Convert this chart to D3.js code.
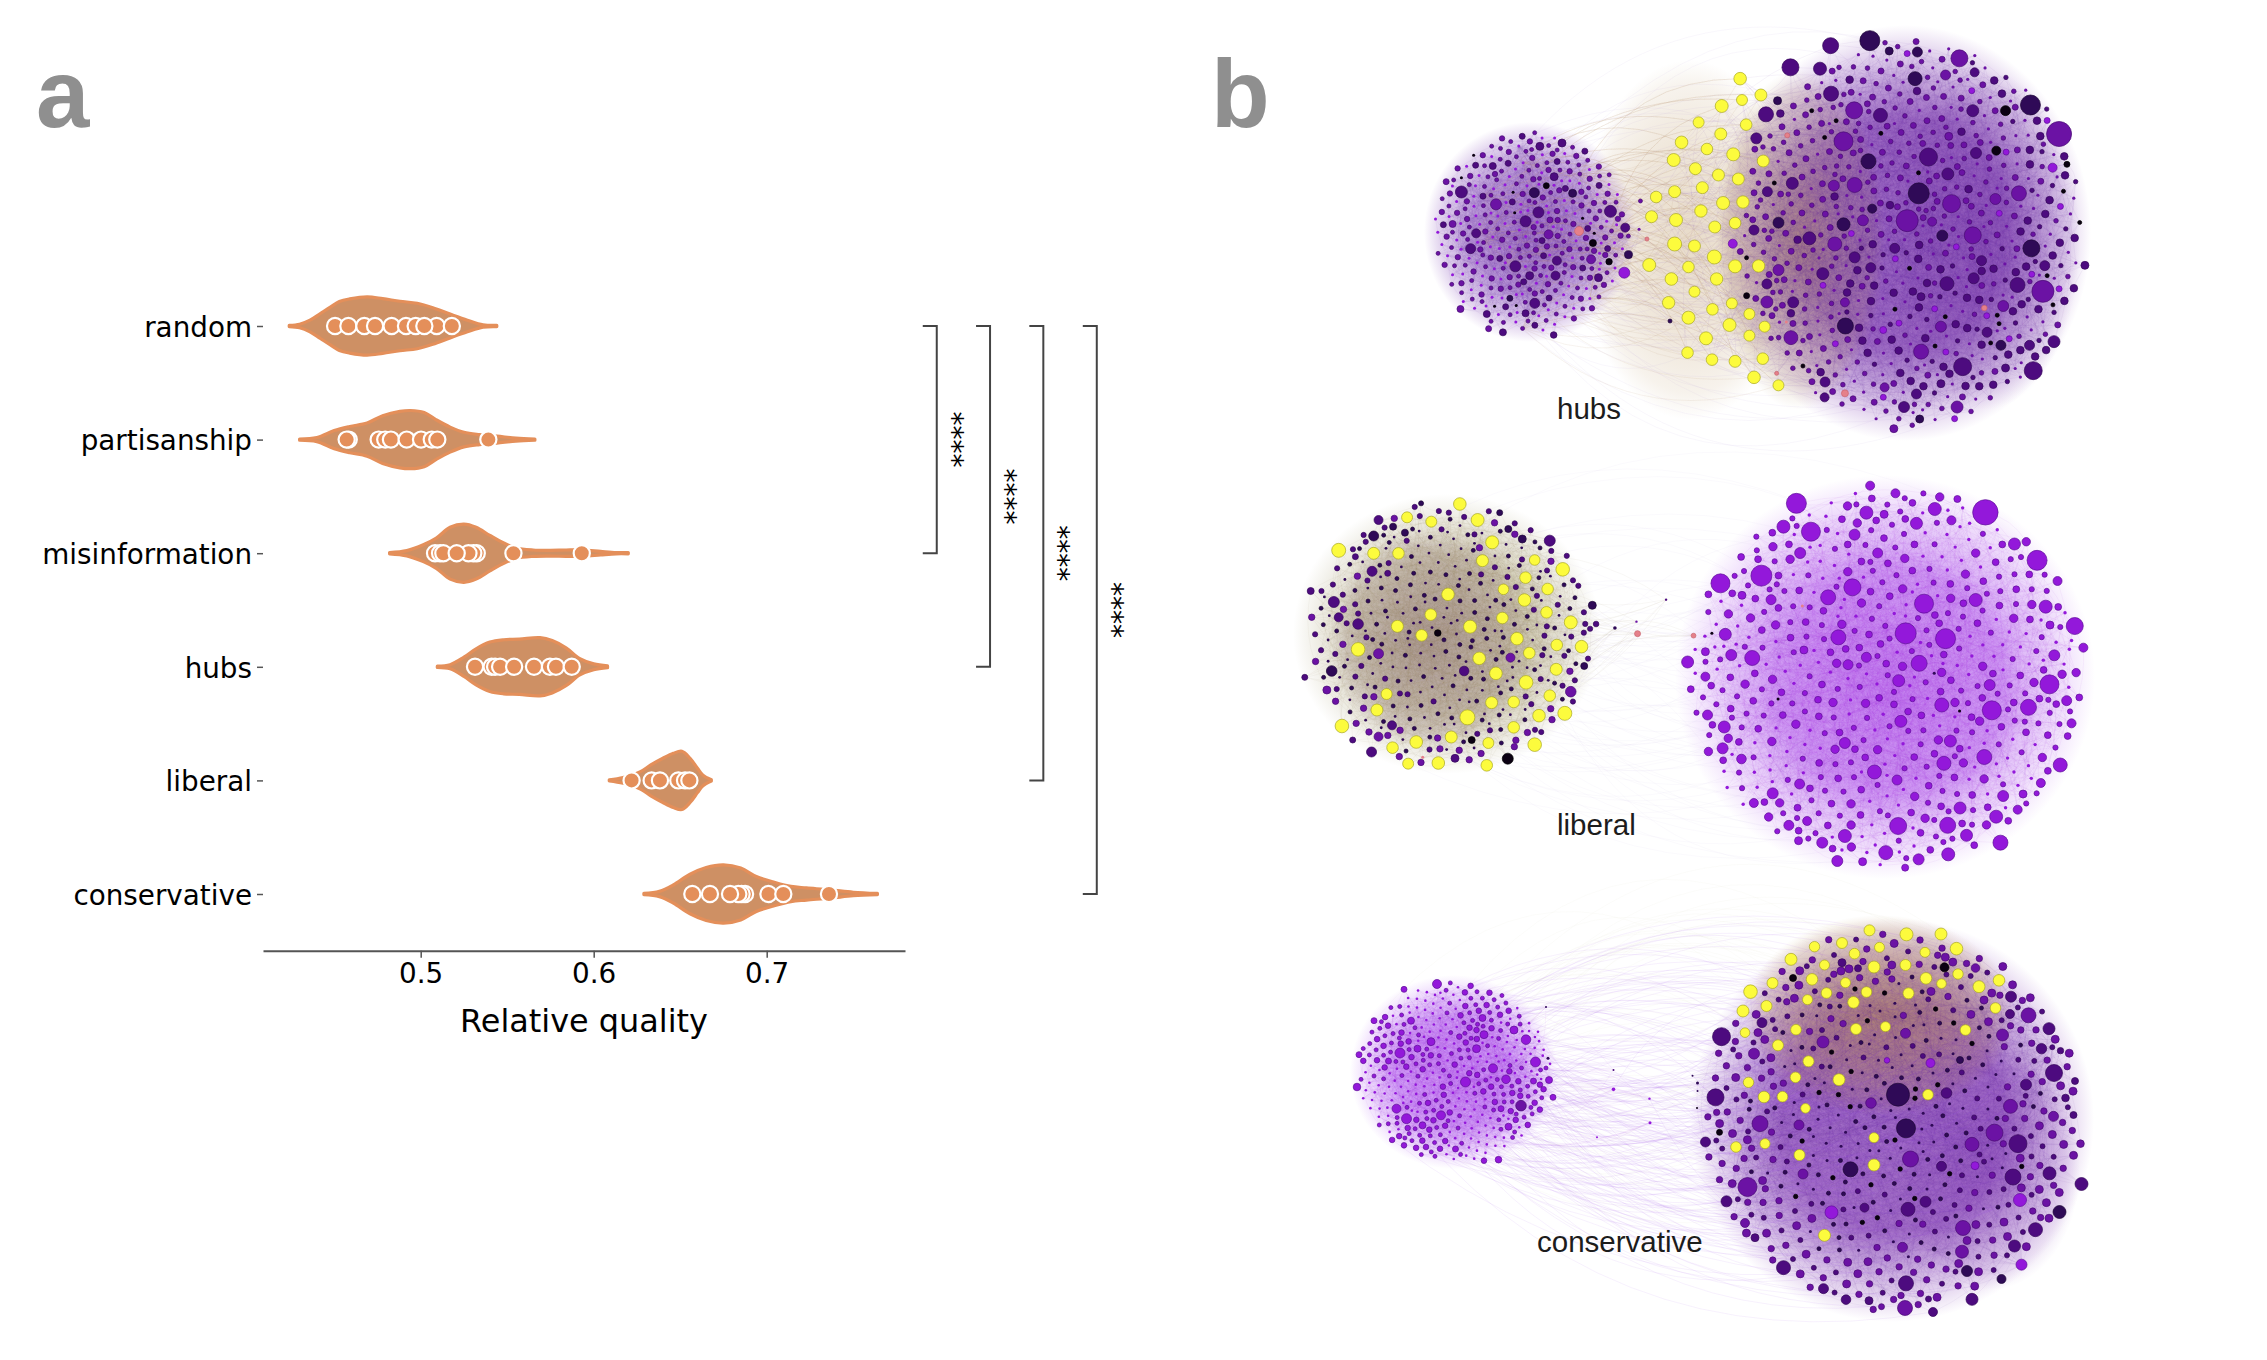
<!DOCTYPE html>
<html><head><meta charset="utf-8">
<script src="https://cdn.jsdelivr.net/npm/d3@7"></script>
<style>html,body{margin:0;padding:0;background:#fff}svg{display:block}</style>
</head><body><svg id="c" width="2267" height="1360" viewBox="0 0 2267 1360"></svg>
<script>
// ---------- panel a data ----------
const categories = ["random","partisanship","misinformation","hubs","liberal","conservative"];
const xTicks = [0.5,0.6,0.7];
const points = {
  random:[.4505,.4582,.4674,.4736,.4832,.4915,.4971,.5092,.518,.5021],
  partisanship:[.4584,.4572,.4757,.4795,.4828,.4919,.5002,.5064,.5096,.5391],
  misinformation:[.5324,.5304,.5276,.5083,.5112,.5131,.5208,.5536,.5931],
  hubs:[.5314,.5410,.5430,.5459,.5540,.5655,.5747,.5782,.5873],
  liberal:[.6219,.6335,.6383,.6489,.6528,.6553],
  conservative:[.6875,.6855,.6836,.6570,.6672,.6788,.7010,.7096,.7360]
};
const violinGrid = {
  random:[.424,.430,.436,.442,.448,.453,.459,.469,.478,.488,.498,.507,.517,.527,.536,.544],
  partisanship:[.430,.440,.450,.459,.469,.478,.488,.494,.502,.509,.517,.525,.534,.544,.555,.566],
  misinformation:[.482,.492,.5015,.509,.517,.525,.532,.540,.548,.555,.565,.575,.584,.594,.604,.613,.620],
  hubs:[.5096,.517,.525,.532,.540,.548,.557,.569,.576,.584,.592,.600,.608],
  liberal:[.609,.617,.627,.633,.640,.646,.651,.6557,.660,.663,.668],
  conservative:[.629,.638,.646,.6557,.665,.675,.685,.694,.704,.714,.723,.737,.750,.764]
};
const violinDensity = {
  random:[.02,.06,.2,.43,.66,.84,.93,1,.94,.85,.78,.63,.41,.2,.04,.02],
  partisanship:[.02,.07,.31,.45,.57,.82,.97,1,.93,.68,.43,.25,.17,.12,.05,.02],
  misinformation:[.02,.09,.29,.52,.89,1,.89,.61,.35,.18,.11,.1,.11,.11,.06,.02,.02],
  hubs:[.02,.07,.33,.62,.85,.93,.95,1,.9,.65,.28,.1,.03],
  liberal:[.02,.1,.3,.53,.76,.93,1,.76,.42,.19,.02],
  conservative:[.02,.09,.31,.68,.91,1,.89,.6,.41,.26,.21,.14,.06,.02]
};
const bracketTargets = ["misinformation","hubs","liberal","conservative"];
const bracketValues = [.7983,.8291,.8599,.8908];
const sigLabel = "****";
const panelLetters = ["a","b"];
const networkLabels = ["hubs","liberal","conservative"];

// ---------- panel b data ----------
// Larger nodes: [crop x, crop y, radius, colour class], read one by one from enlarged crops.
// Class: 0 black, 1 dark, 2 deep, 3 mid, 4 bright, 5 pink, 6 yellow.
const hubsYellow=[[737,176,6.3],[782,225,6],[741,240,5.5],[697,258,6.5],[647,307,5.5],[750,314,5.8],[695,342,6],[610,367,6.3],[665,387,5.8],[722,403,6.5],[593,420,6.5],[787,423,6],[640,446,6],[690,465,6],[733,477,6],[655,503,6],[595,515,6],[555,531,5.8],[700,549,6.5],[743,546,6.2],[652,573,6.2],[545,590,6],[598,600,6.5],[726,609,5.8],[682,621,6],[595,672,7],[638,678,6],[681,711,7],[540,735,6.5],[726,739,6.5],[777,738,6.2],[625,741,5.8],[588,777,6.3],[686,777,6.2],[638,815,5.5],[582,848,6.2],[719,850,5.5],[677,868,5.8],[757,882,5.5],[625,893,6.5],[714,915,6.5],[790,920,5.5],[663,955,6.5],[757,947,5.5],[623,998,5.8],[786,1016,5.8],[676,1019,5.8],[726,1024,6],[767,1072,6.3],[820,1096,5.5]];
const hubsRightNodes=[[1018,62,10,1],[933,77,8,2],[1060,93,4,1],[1121,96,5,1],[1212,115,8.5,3],[846,142,8.5,2],[910,146,6.5,2],[1116,176,7,1],[1245,157,4.5,2],[1182,165,5,3],[934,221,7.5,2],[984,271,8.5,3],[1041,286,7,2],[1366,255,10,1],[1312,272,5,0],[1241,272,6,2],[1428,342,12.5,3],[793,283,7.5,2],[818,242,4,1],[772,355,5.5,2],[961,364,9.5,3],[1145,411,9,2],[1189,349,4,3],[1248,399,5.5,2],[1292,392,4.5,0],[1015,424,7.5,1],[1414,443,4.5,4],[1445,433,3,0],[1187,462,6,2],[985,495,7.5,3],[940,497,5.5,3],[850,490,6,2],[796,515,5,2],[1124,520,10.5,1],[1341,520,7.5,3],[1195,551,9,3],[1290,537,5.5,3],[1099,602,11,3],[1023,566,4.5,1],[961,613,6.5,1],[820,608,5.5,1],[1241,646,8.5,3],[1003,601,5.5,3],[1153,605,4.5,3],[1175,647,5.5,1],[887,655,6.5,2],[942,672,7,3],[767,630,5,2],[721,671,4.5,4],[1368,685,8.5,1],[1072,685,5,2],[985,712,5.5,2],[1260,722,5,2],[1484,736,4,2],[1397,737,5,2],[1185,791,7,2],[1243,775,5.5,2],[1338,795,7.5,2],[1393,814,11,3],[916,761,6,2],[820,750,5.5,3],[795,792,5,2],[795,846,6,3],[852,847,5.5,2],[964,847,4.5,3],[1307,858,5.5,3],[965,918,8,1],[847,953,7,3],[1172,920,5.5,3],[1272,937,5,2],[1302,976,5,1],[1364,976,5,2],[1417,965,6,2],[1129,995,7.5,3],[1219,1040,9,2],[1372,1052,9,2],[1312,1044,4,2],[921,1086,5,2],[1119,1122,5,2],[1172,1091,4,2],[1207,1161,6,3],[1092,1161,5.5,2],[1070,1226,4,3],[1126,1197,4,1],[920,1132,4.5,2],[1050,1102,4.5,3],[1020,743,5,2],[1047,930,3.5,4],[1129,830,4,2],[839,346,2.5,5],[1266,864,2.8,5],[964,1120,3.5,5],[816,1060,2,5],[837,906,1.5,5],[892,272,2,0],[945,302,2,0],[873,1038,2,0],[1298,911,2,0],[751,827,3,0]];
const hubsLeftNodes=[[133,516,6,2],[208,553,5.5,3],[291,518,5,1],[317,497,3,0],[374,520,4,1],[351,369,4,2],[303,379,4,2],[334,470,4,2],[300,577,5.5,2],[272,604,5.5,2],[325,600,3,3],[456,574,6,2],[488,623,4.5,2],[388,633,4.5,5],[418,669,3.5,0],[322,643,4.5,3],[165,640,4.5,2],[153,686,5,2],[114,612,3.5,3],[414,718,4.5,3],[495,704,4,1],[453,725,3.2,0],[486,758,5.5,4],[340,722,4.5,2],[250,739,5.5,2],[337,767,4.5,2],[430,773,4,2],[292,850,5,2],[281,767,4,2],[131,867,3.5,3],[188,882,3.5,2],[272,880,3.5,2],[223,937,3.5,2],[333,945,3.3,2],[192,926,3,3],[238,835,3,1],[100,485,3,3],[201,438,3.5,2],[535,657,2,5],[521,543,2,3],[518,628,1.5,3],[585,903,2,1]];
const liberalYellow=[[334,102,6.3],[236,142,5.5],[281,155,5.5],[367,150,6.5],[394,217,6.5],[109,241,7],[174,250,6],[220,250,5.8],[376,272,6],[473,270,5.3],[525,298,6.8],[456,323,5.8],[312,373,6.3],[415,358,5.3],[497,357,5.8],[454,390,6.3],[280,434,5.8],[413,444,5.8],[495,427,5.8],[218,469,6],[353,470,6.5],[263,496,5.8],[540,457,6.5],[440,506,6.3],[514,525,5.8],[560,530,6.3],[145,538,6.8],[463,549,5.8],[370,565,6.3],[513,598,6],[401,610,6.3],[457,637,6.8],[198,672,5.5],[393,698,6],[434,696,5.8],[501,677,5.8],[180,720,6],[348,742,7.5],[529,730,7],[481,737,6.3],[115,768,6.8],[434,772,5.8],[318,801,6],[253,816,6.3],[387,819,5.5],[473,824,6.8],[209,833,5.8],[238,881,5.5],[294,879,6.3],[384,886,5.8]];
const liberalLeftNodes=[[183,150,4.5,2],[174,198,5,1],[501,212,5.5,2],[450,207,4,1],[408,128,3,1],[424,177,3.5,1],[262,100,2.5,1],[210,170,3.5,1],[232,188,3.5,1],[171,304,5,2],[100,396,5.5,2],[57,363,3.5,2],[145,462,5.3,2],[109,442,4.5,2],[580,406,4,1],[587,462,2.8,2],[183,551,5,3],[428,563,4.5,3],[342,603,4.8,2],[96,603,5.3,1],[565,588,3.5,1],[46,622,3,2],[540,665,5.3,3],[87,660,4,3],[208,766,4.5,2],[183,800,4.5,3],[170,846,5,2],[135,810,3,2],[325,865,4,2],[356,810,3.5,0],[423,866,5.5,0],[293,489,3.3,0],[622,474,1.8,1],[265,862,1.5,5],[664,491,3,5],[768,497,2.4,5],[717,389,1.2,2],[662,455,1.2,3],[200,310,3,2],[140,260,3,2]];
const liberalRightNodes=[[959,100,10,4],[1310,127,12.7,4],[986,185,9.5,4],[935,170,6.5,4],[1089,128,6.5,4],[1143,70,4.5,4],[1096,47,4.5,4],[1216,117,6.5,4],[1122,133,4,4],[1182,160,6,4],[1247,151,4.5,4],[1258,87,3.5,4],[1067,194,5.5,4],[1364,222,6,4],[1406,271,10,4],[966,249,5.5,4],[1110,249,5,4],[818,340,9.5,4],[894,317,10.5,4],[1444,333,4.5,4],[1063,352,8.5,4],[1018,382,7.5,4],[1196,401,9.5,4],[1292,390,6.5,4],[912,389,5,4],[858,376,4,4],[1422,410,6.5,4],[1476,468,8.5,4],[1162,490,10.5,4],[1236,506,10,4],[1037,502,7.5,4],[827,493,6,4],[1430,465,4,4],[1492,533,4.5,4],[877,564,7.5,4],[838,555,5.5,4],[790,545,4,4],[757,576,6,4],[1187,580,8,4],[1089,562,5,4],[973,540,4,4],[1055,584,5,4],[1438,556,5.5,4],[1149,632,6,4],[1429,643,9.5,4],[1318,645,5.5,4],[790,620,4.5,4],[1461,692,5,4],[1229,705,7,4],[1322,721,9.5,4],[1390,712,8,4],[794,735,5,4],[825,771,6,4],[1470,760,4.5,4],[1153,754,6,4],[1245,813,6,4],[822,835,5.5,4],[1049,819,5.5,4],[1308,861,7.5,4],[1233,880,7,4],[1449,885,7,4],[857,867,4.8,4],[1104,906,7,4],[1146,930,5,4],[915,970,5.5,4],[965,942,5,4],[880,999,4.5,4],[1413,939,4.5,4],[1343,978,5.5,4],[1380,972,4,4],[1263,1014,6,4],[1370,1019,4.5,4],[1330,1040,6.5,4],[1148,1068,8.5,4],[1240,1066,8,4],[1275,1096,6,4],[1049,1098,6.5,4],[945,1066,5,4],[979,1053,4.5,4],[1338,1118,7.5,4],[1007,1118,5.5,4],[963,1112,4,4],[1125,1148,7,4],[1241,1153,6.5,4],[1186,1168,5.5,4],[1035,1173,5.5,4],[1082,1175,4,4],[1161,1193,3.5,4],[970,408,1.5,5],[1215,610,1.5,1],[925,687,1.5,0],[1262,723,1.5,0],[802,490,1.5,0]];
const conservativeLeftNodes=[[194,252,4.5,4],[128,268,3,4],[285,354,3.5,4],[348,390,4,4],[372,419,4.8,4],[288,404,4,4],[182,425,4,4],[120,459,5,4],[155,446,3.5,4],[273,446,4,4],[142,362,3.5,4],[306,505,4.5,4],[391,486,5,4],[332,538,4.3,4],[251,546,5,4],[418,540,3.5,4],[387,543,3,4],[34,561,3.8,4],[362,617,5.3,3],[426,592,3,4],[113,626,4.5,4],[202,646,4.5,4],[133,656,5,4],[165,676,3.5,4],[337,680,3.5,4],[322,626,3,4],[231,747,3,4],[317,779,3.3,4],[288,782,2.8,4],[172,741,2.8,4],[128,736,2.8,4],[68,362,3,4],[38,464,3,4],[97,483,3,4],[259,383,2.8,4],[412,321,1,1],[416,475,1.5,1],[547,510,1,2],[547,568,1.8,4],[619,596,1.2,4],[620,668,1.5,4],[514,712,1,4]];
const conservativeYellow=[[1059,91,5.5],[1133,103,6.5],[1202,102,6],[1233,146,6.3],[1004,129,5.5],[949,140,5.2],[1079,142,5],[1029,161,5.3],[1170,157,5],[902,178,6],[969,195,5],[1068,201,6],[1131,195,5.5],[865,249,5.5],[944,238,5.8],[1011,248,5],[1172,235,5.8],[1236,222,5.2],[1203,251,4.8],[1318,241,5.8],[1278,260,6],[821,275,6.8],[973,279,5.3],[1053,276,5.3],[1137,280,5.5],[935,299,5],[1027,307,5.8],[853,318,5.5],[1311,324,5.3],[806,333,6],[1032,387,5.5],[1091,380,5],[912,389,5.3],[1251,390,5.3],[810,398,4.8],[876,436,5.5],[937,484,5.5],[911,532,5.3],[998,539,6],[817,547,5.2],[848,591,5.8],[885,590,5.3],[1176,584,5.3],[931,625,4.8],[1068,713,5],[792,741,5.3],[850,731,5],[919,765,5.5],[1068,795,6],[969,1006,6]];
const conservativeRightNodes=[[1209,202,4.5,0],[906,234,3.5,0],[1004,188,4,2],[1036,205,3.5,2],[1271,204,4.3,3],[1342,290,5.5,2],[1377,346,7.5,3],[1340,342,4.5,2],[1418,386,6,2],[844,368,5,2],[763,410,9,2],[1325,405,6,3],[966,426,6,3],[1131,400,5,3],[1403,446,5.2,2],[1441,452,3.2,2],[828,461,5.5,3],[1428,519,8.5,2],[1470,543,3.5,2],[1116,584,11.5,1],[751,592,8.5,2],[1372,554,5.5,2],[1213,579,5.3,2],[1062,609,5.3,3],[1341,619,7,3],[1451,594,3.8,2],[1467,645,3.5,2],[1427,649,5,3],[840,671,8,3],[918,675,5,3],[1132,685,9.5,1],[1309,698,8.5,3],[731,726,5,2],[1356,731,9,2],[1264,733,7,3],[1481,731,3.8,3],[759,697,3,0],[1141,777,8,3],[1021,808,7.5,1],[1203,799,5,2],[1346,831,8,2],[815,861,9.5,3],[1419,820,6.5,2],[926,822,5,3],[1483,852,6.5,2],[773,904,5.5,2],[1360,900,6.5,4],[1136,928,7,2],[1171,905,5.5,2],[983,937,6.5,4],[1439,936,6.5,1],[1246,984,7.5,3],[1391,989,7,2],[1049,923,4.5,2],[1349,1038,6,2],[1244,1055,6.5,3],[887,1103,7,2],[1363,1094,5.5,4],[1254,1113,5.5,1],[1323,1137,4.5,1],[1132,1150,7.5,2],[1125,1042,5,3],[967,1166,5,2],[1130,1224,7.5,3],[1186,1236,4.5,2],[1264,1198,6,2],[1012,1199,4.8,2],[1058,1202,4,2],[1083,1220,3,3],[1177,1197,3,2],[810,969,4.5,3],[830,1013,4,2],[1270,797,4,4],[1181,489,4.5,4],[1240,480,3.5,1],[1094,481,2.8,4],[705,527,1,1],[715,549,1.5,1],[715,573,1,1],[714,624,1,0]];
// Tiny nodes are too many to read one at a time. These are estimated counts per size and colour:
// [count, radius, colour class, inner zone, outer zone]. d3.forceSimulation places them, so their
// individual positions are a layout result and not readings. The faint edges are also illustrative.
const hubsLeftSmall=[[110,1.5,4,0,1],[120,2,3,0,1],[70,2.7,3,0,1],[20,3,2,0,1],[8,1.5,0,0,1]];
const hubsRightSmall=[[150,1.6,3,0,1],[170,2.3,3,0,1],[110,3,3,0,1],[70,3.8,2,0,1],[40,2.2,2,0,1],[15,2,0,0,1],[20,3,4,0,1]];
const liberalLeftSmall=[[130,1.4,1,0,.7],[100,2,1,0,.8],[70,2.6,2,.3,1],[30,3.2,3,.5,1]];
const liberalRightSmall=[[160,1.7,4,0,1],[170,2.6,4,0,1],[110,3.4,4,0,1],[50,4.2,4,0,1]];
const conservativeLeftSmall=[[170,1.3,4,0,1],[130,2,4,0,1],[60,2.8,4,0,1]];
const conservativeRightSmall=[[90,1.5,1,0,.45],[80,2,1,0,.55],[100,2.5,2,.15,.9],[110,3.2,3,.3,1],[60,4,3,.4,1],[25,2.2,0,0,.45]];
const withClass=(a,c)=>a.map(d=>[d[0],d[1],d[2],c]);

// ---------- layout and styles ----------
const svg=d3.select("#c");
const SANS="'DejaVu Sans',sans-serif", HELV="'Liberation Sans',Arial,sans-serif";
const x=d3.scaleLinear().domain([.5,.7]).range([420.7,766.7]);
const y=d3.scalePoint().domain(categories).range([326,894]);
const axisY=950.7, axisLeft=263, axisRight=905;
const halfH=29.1;
const ORANGE="#e48f5a", BODY="#ce9064";

const pa=svg.append("g");
const area=d3.area().x(d=>x(d[0])).curve(d3.curveCatmullRom.alpha(.5));
categories.forEach(c=>{
  const row=violinGrid[c].map((v,i)=>[v,violinDensity[c][i]]);
  pa.append("path").datum(row)
    .attr("d",area.y0(d=>y(c)-d[1]*halfH).y1(d=>y(c)+d[1]*halfH))
    .attr("fill",BODY).attr("stroke",ORANGE).attr("stroke-width",3.2).attr("stroke-linejoin","round");
  pa.append("g").selectAll("circle").data(points[c]).join("circle")
    .attr("cx",d=>x(d)).attr("cy",y(c)).attr("r",8.1)
    .attr("fill",ORANGE).attr("stroke","#fff").attr("stroke-width",2.2);
});
// axes
const gx=pa.append("g").attr("transform",`translate(0,${axisY})`)
  .call(d3.axisBottom(x.copy().domain([x.invert(axisLeft),x.invert(axisRight)]).range([axisLeft,axisRight])).tickValues(xTicks).tickSize(7).tickSizeOuter(0).tickPadding(6).tickFormat(d3.format(".1f")));
gx.select(".domain").attr("stroke","#555").attr("stroke-width",2);
gx.selectAll(".tick line").attr("stroke","#555").attr("stroke-width",1.5);
gx.selectAll("text").attr("font-family",SANS).attr("font-size",27.8).attr("fill","#000");
const gy=pa.append("g").attr("transform",`translate(${axisLeft},0)`)
  .call(d3.axisLeft(y).tickSize(6).tickPadding(5));
gy.select(".domain").remove();
gy.selectAll(".tick line").attr("stroke","#555").attr("stroke-width",1.5);
gy.selectAll("text").attr("font-family",SANS).attr("font-size",27.8).attr("fill","#000").attr("dy","0.37em");
pa.append("text").text("Relative quality").attr("x",584).attr("y",1032).attr("text-anchor","middle")
  .attr("font-family",SANS).attr("font-size",31.9).attr("fill","#000");
// brackets
bracketTargets.forEach((t,i)=>{
  const bx=x(bracketValues[i]), y0=y("random"), y1=y(t), arm=14;
  pa.append("path").attr("d",`M${bx-arm},${y0}H${bx}V${y1}H${bx-arm}`)
    .attr("fill","none").attr("stroke","#444").attr("stroke-width",2);
  const sy=(y0+y1)/2, sx=bx+35;
  pa.append("text").text(sigLabel).attr("text-anchor","middle")
    .attr("transform",`translate(${sx},${sy}) rotate(-90)`)
    .attr("font-family",SANS).attr("font-size",28).attr("fill","#000");
});
// panel letters
[[36,127],[1211,127]].forEach((p,i)=>svg.append("text").text(panelLetters[i]).attr("x",p[0]).attr("y",p[1])
  .attr("font-family",HELV).attr("font-weight",700).attr("font-size",96).attr("fill","#8f8f8f"));

// ---------- panel b ----------
const palette=["#0b0012","#2f0a57","#4d0b7f","#6b12a4","#9318da","#e5808a","#fcfb3d"];
const strokes=["#000","#1c0636","#35075a","#470a72","#5e0e98","#c9646e","#a9a822"];
const crops={
  hubs:{sx:d3.scaleLinear([0,1560],[1400,2120]),sy:d3.scaleLinear([0,1290],[20,450])},
  liberal:{sx:d3.scaleLinear([0,1560],[1280,2120]),sy:d3.scaleLinear([0,1260],[470,890])},
  conservative:{sx:d3.scaleLinear([0,1560],[1340,2120]),sy:d3.scaleLinear([0,1320],[900,1340])}
};
const clusters=[
 {id:"hl",crop:"hubs",cx:1530.5,cy:232,rx:100,ry:104,big:hubsLeftNodes,small:hubsLeftSmall,sp:3.0,edge:"#6a2aa0",edgeN:3},
 {id:"hr",crop:"hubs",cx:1911,cy:233,rx:179,ry:200,big:hubsRightNodes.concat(withClass(hubsYellow,6)),small:hubsRightSmall,sp:3.8,edge:"#6a2aa0",edgeN:3},
 {id:"ll",crop:"liberal",cx:1451,cy:634,rx:147,ry:134,big:liberalLeftNodes.concat(withClass(liberalYellow,6)),small:liberalLeftSmall,sp:3.3,edge:"#8a7a50",edgeN:3},
 {id:"lr",crop:"liberal",cx:1885,cy:677,rx:204,ry:195,big:liberalRightNodes,small:liberalRightSmall,sp:4.5,edge:"#9a30e0",edgeN:3},
 {id:"cl",crop:"conservative",cx:1454,cy:1072,rx:100,ry:93,big:conservativeLeftNodes,small:conservativeLeftSmall,sp:2.9,edge:"#9a30e0",edgeN:3},
 {id:"cr",crop:"conservative",cx:1892,cy:1120,rx:195,ry:195,big:conservativeRightNodes.concat(withClass(conservativeYellow,6)),small:conservativeRightSmall,sp:4.2,edge:"#6a2aa0",edgeN:3}
];
clusters.forEach(c=>{
  const cr=crops[c.crop];
  const fixed=c.big.map(d=>({fx:cr.sx(d[0])-c.cx,fy:cr.sy(d[1])-c.cy,r:d[2],k:d[3],pad:d[3]===6?4:1.5}));
  const tiny=[];
  c.small.forEach(g=>d3.range(g[0]).forEach(j=>tiny.push({r:g[1],k:g[2],key:g[3]+(j+.5)/g[0]*(g[4]-g[3]),pad:0})));
  tiny.sort((a,b)=>d3.ascending(a.key,b.key));
  const nodes=tiny.concat(fixed);
  const sim=d3.forceSimulation(nodes).stop().alpha(.5);
  // d3's own spiral start, fitted into the cluster outline before collisions are resolved
  const R=d3.max(tiny,n=>Math.hypot(n.x,n.y));
  tiny.forEach(n=>{n.x*=c.rx*.96/R;n.y*=c.ry*.96/R;});
  sim.force("collide",d3.forceCollide(d=>d.fx!==undefined?d.r+d.pad:c.sp).strength(.5).iterations(1));
  const clamp=()=>tiny.forEach(n=>{ const q=Math.hypot(n.x/c.rx,n.y/c.ry); if(q>.98){n.x*=.98/q;n.y*=.98/q;} });
  for(let i=0;i<60;i++){ sim.tick(); clamp(); }
  nodes.forEach(n=>{n.px=c.cx+n.x;n.py=c.cy+n.y;});
  c.nodes=nodes;
});
const byId=Object.fromEntries(clusters.map(c=>[c.id,c]));

const defs=svg.append("defs");
function haze(id,stops){ const g=defs.append("radialGradient").attr("id",id);
  stops.forEach(s=>g.append("stop").attr("offset",s[0]).attr("stop-color",s[1]).attr("stop-opacity",s[2])); return `url(#${id})`; }
const layerHaze=svg.append("g"), layerEdges=svg.append("g"), layerNodes=svg.append("g");
const hazes=[
 // hubs
 ["h1",1690,240,110,180,"#d8c3a5",.6,.5],
 ["h2",1530,232,106,110,"#8a52bc",.72,.6],
 ["h3",1905,233,186,208,"#8a4cb8",.82,.75],
 ["h4",1800,240,85,170,"#b09060",.6,.4],
 ["h5",1985,240,95,170,"#6a2aa0",.3,.4],
 // liberal
 ["l1",1447,634,154,140,"#c3bd9f",.75,.72],
 ["l2",1430,640,100,110,"#8a6a78",.5,.45],
 ["l3",1885,677,210,202,"#c07af0",.7,.72],
 ["l4",1895,690,130,135,"#a846e6",.35,.35],
 // conservative
 ["c1",1454,1072,104,97,"#bf7af4",.72,.72],
 ["c2",1892,1120,202,202,"#9050bc",.82,.75],
 ["c3",1880,1015,135,100,"#b48a4c",.65,.5],
 ["c4",1990,1170,90,120,"#7a30b0",.3,.35]
];
hazes.forEach(h=>{
  const f=haze(h[0],[[0,h[5],h[6]],[.55,h[5],h[6]*h[7]/.75],[.85,h[5],h[6]*.35],[1,h[5],0]]);
  layerHaze.append("ellipse").attr("cx",h[1]).attr("cy",h[2]).attr("rx",h[3]).attr("ry",h[4]).attr("fill",f);
});
const arc=(a,b,s,bend)=>{ const dx=b.px-a.px,dy=b.py-a.py; const mx=(a.px+b.px)/2-dy*bend*s, my=(a.py+b.py)/2+dx*bend*s;
  const p=d3.path(); p.moveTo(a.px,a.py); p.quadraticCurveTo(mx,my,b.px,b.py); return p.toString(); };
function addEdge(a,b,col,op,bend,s){ layerEdges.append("path").attr("d",arc(a,b,s,bend)).attr("fill","none").attr("stroke",col).attr("stroke-width",.5).attr("stroke-opacity",op); }
clusters.forEach(c=>{ const n=c.nodes.length;
  c.nodes.forEach((a,i)=>{ for(let k=0;k<c.edgeN;k++){ const b=c.nodes[(i*31+k*97+17+k*i*3)%n]; if(a!==b) addEdge(a,b,c.edge,.1,.22,(i+k)%2?1:-1); } });
});
function cross(A,B,count,col,op,bend,filter){ const a=byId[A].nodes.filter(filter||(()=>true)), b=byId[B].nodes;
  d3.range(count).forEach(i=>addEdge(a[(i*13+5)%a.length],b[(i*37+11)%b.length],col,op,bend,i%3===0?-1:1)); }
cross("hr","hl",300,"#b89a70",.12,.3,d=>d.k===6);
cross("hl","hr",80,"#8a5cc0",.1,.45);
cross("ll","lr",90,"#a080c0",.08,.35);
cross("cl","cr",220,"#9a50e0",.16,.3);
cross("cr","cl",50,"#b5b090",.09,.5,d=>d.k===6);

clusters.forEach(c=>{
  const order=c.nodes.slice().sort((a,b)=>d3.ascending(a.r,b.r));
  layerNodes.append("g").selectAll("circle").data(order).join("circle")
    .attr("cx",d=>d.px).attr("cy",d=>d.py).attr("r",d=>d.r)
    .attr("fill",d=>palette[d.k]).attr("stroke",d=>strokes[d.k]).attr("stroke-width",d=>d.r>1.8?.7:0);
});
[[1563,419],[1563,841],[1543,1258]].forEach((p,i)=>svg.append("text").text(networkLabels[i]).attr("x",p[0]-6).attr("y",i?p[1]-6:p[1])
  .attr("font-family",HELV).attr("font-size",29.5).attr("fill","#1c1c1c"));
</script></body></html>
